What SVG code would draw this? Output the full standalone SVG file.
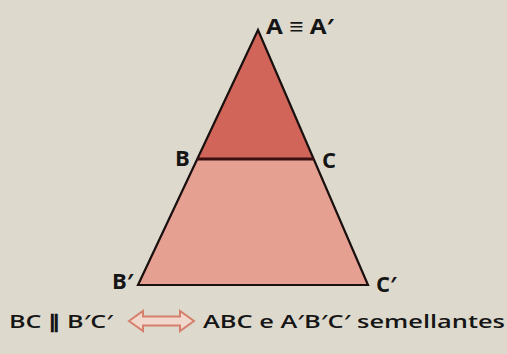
<svg xmlns="http://www.w3.org/2000/svg" width="507" height="354" viewBox="0 0 507 354">
<style>
.lbl{font-family:"Open Sans","Liberation Sans",sans-serif;font-weight:700;font-size:22px;fill:#151515}
.cap{font-family:"Open Sans","Liberation Sans",sans-serif;font-weight:600;font-size:18px;fill:#151515}
.edge{stroke:#1a1010;stroke-width:2.2;fill:none;stroke-linejoin:miter}
</style>
<rect width="507" height="354" fill="#dddacd"/>
<g id="trapezoid">
<polygon points="197,159 314,159 368,285 138,285" fill="#e6a092"/>
</g>
<g id="small-triangle">
<polygon points="258,30 197,159 314,159" fill="#d1655a"/>
</g>
<g id="connectors">
<polygon class="edge" points="258,30 368,285 138,285"/>
<line x1="197" y1="159" x2="314" y2="159" stroke="#3a0f10" stroke-width="3"/>
</g>
<g id="labels">
<text class="lbl" x="266" y="34" textLength="68" lengthAdjust="spacingAndGlyphs">A ≡ A′</text>
<text class="lbl" x="175" y="166">B</text>
<text class="lbl" x="322" y="168">C</text>
<text class="lbl" x="112" y="289">B′</text>
<text class="lbl" x="376" y="292">C′</text>
</g>
<g id="caption">
<text class="cap" x="9" y="328" textLength="104" lengthAdjust="spacingAndGlyphs">BC ∥ B′C′</text>
<path d="M129,321 L143,311 L143,316.5 L180,316.5 L180,311 L194,321 L180,331 L180,325.5 L143,325.5 L143,331 Z" fill="#f0d8cc" stroke="#d57f6c" stroke-width="2" stroke-linejoin="miter"/>
<text class="cap" x="203" y="328" textLength="302" lengthAdjust="spacingAndGlyphs">ABC e A′B′C′ semellantes</text>
</g>
</svg>
